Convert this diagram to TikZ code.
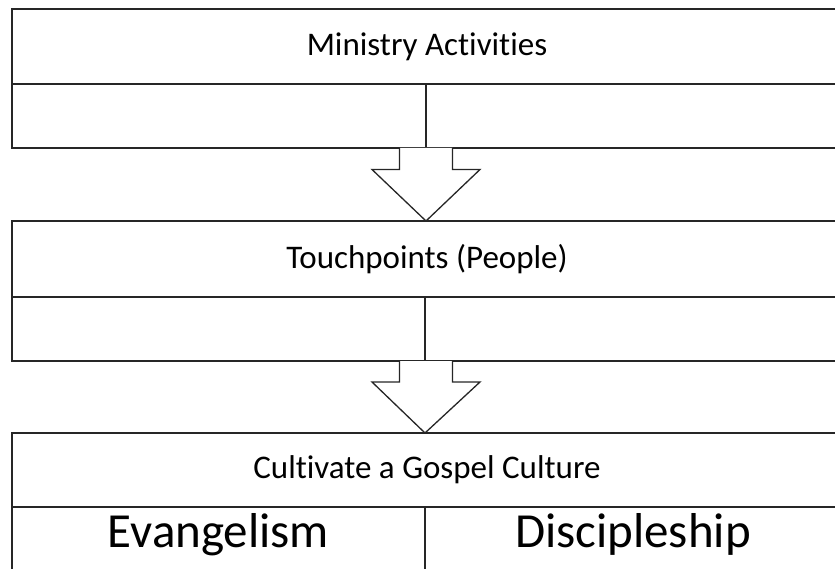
\documentclass[tikz,border=0pt]{standalone}
\usepackage{fontspec}
\setmainfont[Ligatures=NoCommon]{Carlito}
\begin{document}
\begin{tikzpicture}[x=1pt,y=-1pt,
  cell/.style={draw=black!85, line width=1.3pt, rectangle, anchor=north west, inner sep=0pt, outer sep=0pt},
  lbl/.style={font=\fontsize{33}{38}\selectfont},
  big/.style={font=\fontsize{49}{56}\selectfont, inner sep=0pt, anchor=base},
  harrow/.style={draw=black!85, line width=1.3pt, fill=white, line join=miter}]
\useasboundingbox (0,0) rectangle (835,569);
\clip (0,0) rectangle (835,569);
% block 1
\node[cell, lbl, minimum width=830pt, minimum height=75pt] (t1) at (12,9) {Ministry Activities};
\node[cell, minimum width=414pt, minimum height=64pt] (l1) at (12,84) {};
\node[cell, minimum width=416pt, minimum height=64pt] (r1) at (426,84) {};
% block 2
\node[cell, lbl, minimum width=830pt, minimum height=76pt] (t2) at (12,221) {Touchpoints (People)};
\node[cell, minimum width=413pt, minimum height=64pt] (l2) at (12,297) {};
\node[cell, minimum width=417pt, minimum height=64pt] (r2) at (425,297) {};
% block 3
\node[cell, lbl, minimum width=830pt, minimum height=74pt] (t3) at (12,433) {Cultivate a Gospel Culture};
\node[cell, minimum width=413pt, minimum height=90pt] (l3) at (12,507) {};
\node[cell, minimum width=417pt, minimum height=90pt] (r3) at (425,507) {};
\node[big] (ev) at (218.5,547) {Evangelism};
\node[big] (di) at (633,547) {Discipleship};
% arrows
\draw[harrow] (r1.south west) ++(-26.5,0) -- ++(0,21.5) -- ++(-27.5,0) -- (t2.north -| r1.south west) -- (480,169.5) -- (452.5,169.5) -- (452.5,148);
\draw[harrow] (r2.south west) ++(-25.5,0) -- ++(0,21) -- ++(-27.5,0) -- (t3.north -| r2.south west) -- (480,382) -- (452.5,382) -- (452.5,361);
\end{tikzpicture}
\end{document}
